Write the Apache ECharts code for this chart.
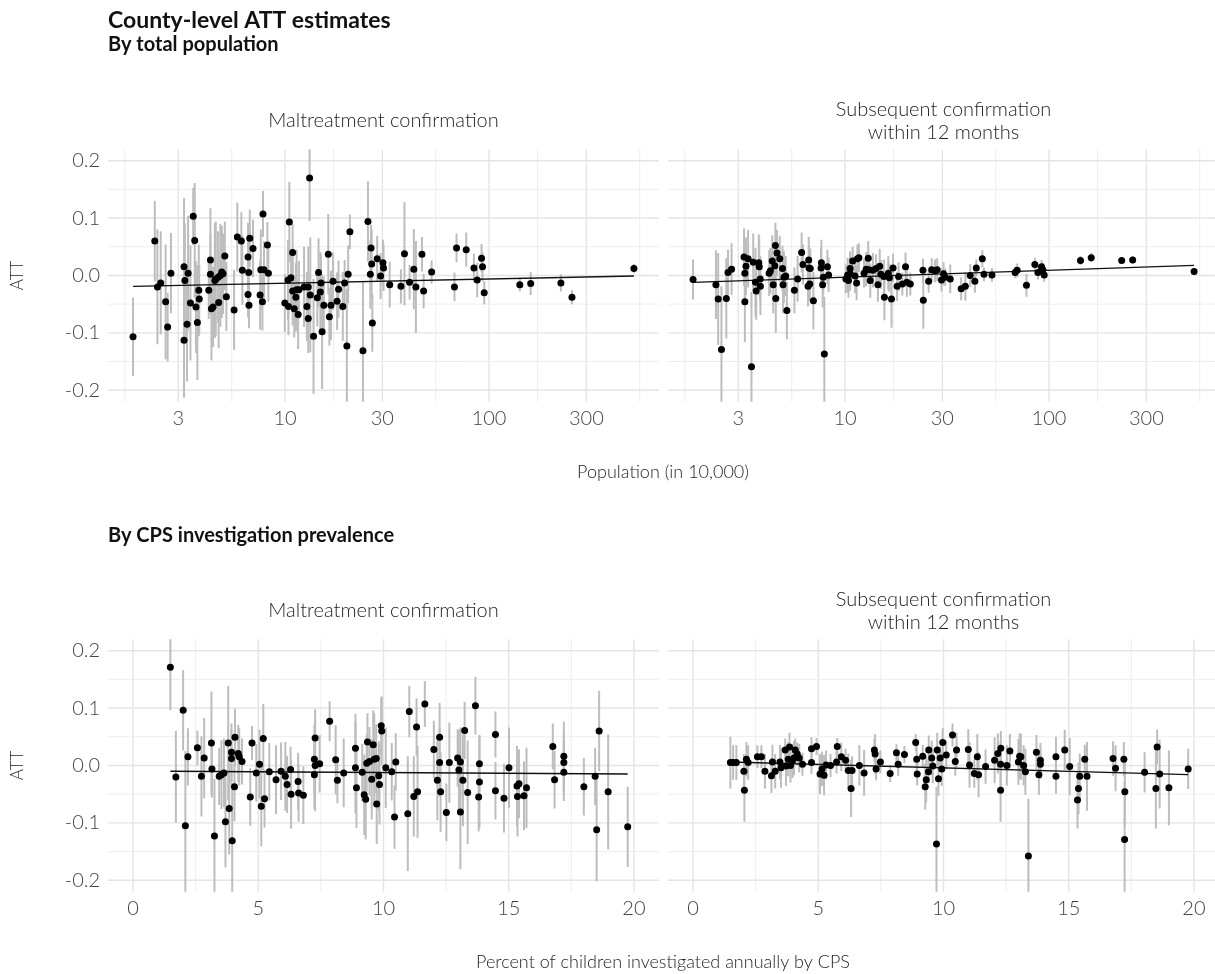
<!DOCTYPE html>
<html>
<head>
<meta charset="utf-8">
<title>County-level ATT estimates</title>
<script src="https://cdn.jsdelivr.net/npm/echarts@6/dist/echarts.min.js"></script>
<style>
  html, body { margin: 0; padding: 0; background: #fff; }
  #chart { width: 1215px; height: 974px; }
</style>
</head>
<body>
<div id="chart"></div>
<script>
// ---- tick labels / gridlines ----
const popTicks = [3, 10, 30, 100, 300];
const popMinor = [1.64, 5.48, 17.3, 54.8, 173, 548];
const pctTicks = [0, 5, 10, 15, 20];
const pctMinor = [2.5, 7.5, 12.5, 17.5];
const attTicks = [-0.2, -0.1, 0, 0.1, 0.2];
const attMinor = [-0.15, -0.05, 0.05, 0.15];

// ---- top left: maltreatment confirmation by population (in 10,000) ----
const tlPop = [1.80, 2.30, 2.37, 2.46, 2.60, 2.66, 2.76, 3.20, 3.20, 3.23,
  3.31, 3.35, 3.44, 3.55, 3.61, 3.66, 3.72, 3.78, 3.80, 4.23,
  4.31, 4.31, 4.36, 4.44, 4.53, 4.58, 4.70, 4.73, 4.82, 4.90,
  4.97, 5.07, 5.16, 5.63, 5.84, 6.11, 6.18, 6.59, 6.59, 6.64,
  6.66, 6.72, 6.97, 7.55, 7.61, 7.75, 7.80, 7.89, 8.20, 8.29,
  9.98, 10.35, 10.4, 10.5, 10.7, 10.9, 10.9, 11.1, 11.3, 11.4,
  11.6, 11.7, 12.4, 12.8, 13.0, 13.0, 13.2, 13.3, 13.8, 14.4,
  14.6, 14.9, 15.0, 15.2, 15.5, 16.3, 16.5, 16.8, 17.2, 18.0,
  18.3, 19.2, 19.6, 20.1, 20.4, 20.8, 24.1, 25.5, 26.2, 26.4,
  26.6, 26.8, 28.3, 29.4, 30.2, 30.4, 32.6, 37.0, 38.5, 40.8,
  42.8, 43.8, 46.9, 47.8, 52.3, 67.7, 69.3, 77.3, 84.3, 87.5,
  91.9, 92.9, 94.7, 141.5, 160, 225, 255, 513];
const tlAtt = [-0.107, 0.060, -0.020, -0.013, -0.046, -0.090, 0.004, 0.015, -0.113, -0.009,
  -0.085, 0.004, -0.048, 0.103, 0.061, -0.055, -0.082, -0.026, -0.041, -0.026,
  0.027, 0.002, -0.058, -0.055, -0.009, -0.006, -0.003, -0.047, 0.000, 0.006,
  0.003, 0.034, -0.037, -0.060, 0.067, 0.060, 0.009, 0.032, -0.033, 0.005,
  -0.052, 0.065, 0.047, -0.034, 0.010, -0.046, 0.107, 0.010, 0.053, 0.004,
  -0.048, -0.008, -0.054, 0.093, -0.004, 0.040, -0.027, -0.058, -0.038, -0.025,
  -0.068, -0.025, -0.020, -0.054, -0.020, -0.075, 0.170, -0.034, -0.106, -0.039,
  0.005, -0.029, -0.013, -0.098, -0.052, 0.037, -0.072, -0.052, -0.010, -0.045,
  -0.024, -0.054, -0.013, -0.123, 0.002, 0.076, -0.131, 0.094, 0.002, 0.048,
  0.020, -0.083, 0.029, -0.001, 0.022, 0.013, -0.016, -0.019, 0.038, -0.012,
  0.011, -0.020, 0.037, -0.027, 0.006, -0.020, 0.048, 0.045, 0.013, -0.008,
  0.030, 0.015, -0.030, -0.016, -0.014, -0.013, -0.038, 0.012];
const tlCi = [0.068, 0.07, 0.1, 0.09, 0.1, 0.06, 0.07, 0.12, 0.1, 0.1,
  0.1, 0.1, 0.1, 0.05, 0.1, 0.08, 0.1, 0.08, 0.06, 0.05,
  0.09, 0.07, 0.09, 0.07, 0.1, 0.1, 0.08, 0.08, 0.09, 0.08,
  0.07, 0.06, 0.06, 0.07, 0.06, 0.05, 0.06, 0.06, 0.04, 0.06,
  0.04, 0.05, 0.05, 0.06, 0.07, 0.05, 0.04, 0.05, 0.04, 0.05,
  0.05, 0.07, 0.05, 0.07, 0.05, 0.05, 0.06, 0.05, 0.06, 0.07,
  0.06, 0.05, 0.07, 0.06, 0.07, 0.06, 0.075, 0.1, 0.1, 0.05,
  0.06, 0.07, 0.05, 0.1, 0.05, 0.07, 0.05, 0.06, 0.05, 0.05,
  0.05, 0.06, 0.04, 0.1, 0.05, 0.03, 0.12, 0.07, 0.06, 0.04,
  0.06, 0.05, 0.04, 0.04, 0.04, 0.04, 0.04, 0.03, 0.09, 0.03,
  0.07, 0.08, 0.03, 0.03, 0.02, 0.025, 0.025, 0.03, 0.025, 0.03,
  0.025, 0.025, 0.02, 0.012, 0.02, 0.015, 0.012, 0.008];
const tlFitX = [1.8, 513];
const tlFitY = [-0.019, -0.001];

// ---- top right: subsequent confirmation by population ----
const trPop = [1.80, 2.33, 2.39, 2.48, 2.62, 2.67, 2.78, 3.20, 3.23, 3.23,
  3.27, 3.35, 3.48, 3.55, 3.64, 3.67, 3.78, 3.80, 3.84, 3.85,
  4.25, 4.31, 4.40, 4.45, 4.53, 4.56, 4.58, 4.64, 4.79, 4.94,
  4.97, 5.02, 5.12, 5.19, 5.65, 5.86, 6.13, 6.22, 6.59, 6.64,
  6.66, 6.72, 6.76, 7.0, 7.63, 7.66, 7.77, 7.83, 7.92, 8.20,
  8.31, 10.1, 10.3, 10.4, 10.6, 10.6, 10.9, 11.2, 11.4, 11.5,
  11.7, 12.4, 12.7, 13.0, 13.1, 13.3, 13.7, 14.2, 14.5, 14.8,
  15.0, 15.5, 15.6, 16.3, 16.5, 16.9, 17.2, 18.0, 18.3, 19.1,
  19.8, 20.1, 20.9, 24.1, 24.2, 25.7, 26.6, 27.6, 28.3,
  29.7, 30.4, 31.0, 32.8, 37.1, 38.9, 41.1, 43.3, 44.0, 47.1,
  48.0, 52.5, 68.2, 69.8, 77.5, 85.2, 88.2, 91.9, 93.2, 94.7,
  142.6, 161, 227, 257, 514];
const trAtt = [-0.007, -0.016, -0.041, -0.129, -0.040, 0.005, 0.011, 0.032, 0.004, -0.046,
  0.016, 0.029, -0.159, 0.023, -0.012, -0.027, 0.022, 0.015, -0.006, -0.019,
  0.004, 0.008, 0.025, -0.016, 0.017, 0.052, -0.040, 0.039, 0.029, 0.012,
  -0.016, -0.003, -0.001, -0.061, -0.026, -0.006, 0.040, 0.019, -0.019, 0.027,
  0.013, -0.015, 0.012, -0.044, 0.013, 0.022, -0.016, -0.003, -0.137, 0.015,
  0.001, -0.006, 0.001, -0.009, 0.012, 0.003, 0.025, -0.001, -0.013, 0.029,
  0.031, 0.004, 0.011, 0.030, 0.010, -0.009, 0.009, 0.012, -0.016, 0.016,
  0.002, -0.002, -0.038, 0.004, -0.004, -0.041, 0.013, -0.019, -0.002, -0.015,
  0.015, -0.012, -0.015, 0.009, -0.043, -0.010, 0.010, 0.008, 0.010,
  -0.008, 0.003, -0.003, -0.006, -0.023, -0.019, 0.000, -0.010, 0.013, 0.029,
  0.002, 0.001, 0.005, 0.009, -0.017, 0.019, 0.005, 0.015, 0.010, 0.001,
  0.026, 0.031, 0.026, 0.027, 0.007];
const trCi = [0.035, 0.06, 0.08, 0.11, 0.07, 0.04, 0.045, 0.05, 0.05, 0.07,
  0.05, 0.05, 0.13, 0.05, 0.06, 0.05, 0.05, 0.05, 0.04, 0.05,
  0.04, 0.04, 0.045, 0.05, 0.04, 0.04, 0.06, 0.04, 0.04, 0.04,
  0.05, 0.045, 0.035, 0.05, 0.04, 0.04, 0.035, 0.035, 0.035, 0.04,
  0.04, 0.03, 0.035, 0.05, 0.035, 0.04, 0.04, 0.03, 0.1, 0.03,
  0.03, 0.025, 0.03, 0.03, 0.03, 0.03, 0.025, 0.03, 0.03, 0.025,
  0.025, 0.025, 0.03, 0.03, 0.025, 0.03, 0.03, 0.025, 0.03, 0.03,
  0.025, 0.03, 0.04, 0.03, 0.025, 0.05, 0.025, 0.025, 0.025, 0.02,
  0.025, 0.025, 0.02, 0.02, 0.05, 0.02, 0.02, 0.02, 0.02,
  0.02, 0.02, 0.015, 0.025, 0.02, 0.025, 0.02, 0.02, 0.015, 0.015,
  0.012, 0.012, 0.01, 0.012, 0.02, 0.012, 0.012, 0.012, 0.012, 0.012,
  0.008, 0.008, 0.006, 0.006, 0.005];
const trFitX = [1.8, 514];
const trFitY = [-0.012, 0.0175];

// ---- bottom left: maltreatment confirmation by CPS investigation % ----
const blPct = [1.49, 1.71, 2.0, 2.09, 2.19, 2.57, 2.73, 2.84, 3.13, 3.15,
  3.25, 3.44, 3.53, 3.63, 3.69, 3.8, 3.84, 3.93, 3.93, 3.96,
  4.05, 4.07, 4.2, 4.24, 4.35, 4.68, 4.75, 4.92, 5.05, 5.12,
  5.2, 5.25, 5.44, 5.71, 5.91, 6.08, 6.15, 6.29, 6.31, 6.59,
  6.61, 6.8, 7.24, 7.27, 7.27, 7.24, 7.45, 7.85, 8.09, 8.16,
  8.41, 8.88, 8.88, 8.92, 9.15, 9.23, 9.29, 9.36, 9.33, 9.44,
  9.53, 9.59, 9.63, 9.71, 9.73, 9.81, 9.84, 9.91, 9.93, 10.09,
  10.33, 10.44, 10.49, 10.97, 11.03, 11.21, 11.32, 11.36, 11.65, 12.01,
  12.15, 12.24, 12.24, 12.28, 12.51, 12.63, 12.96, 13.01, 13.07, 13.07,
  13.17, 13.24, 13.36, 13.67, 13.8, 13.83, 13.83, 14.47, 14.47, 14.81,
  15.01, 15.33, 15.41, 15.35, 15.61, 15.71, 16.76, 16.83, 17.2, 17.2,
  17.2, 18.0, 18.45, 18.51, 18.61, 18.97, 19.75];
const blAtt = [0.171, -0.020, 0.096, -0.105, 0.015, 0.031, -0.019, 0.013, 0.039, -0.006,
  -0.123, -0.019, -0.016, -0.013, -0.098, 0.039, -0.075, 0.023, 0.012, -0.131,
  -0.037, 0.049, 0.021, 0.015, 0.007, -0.055, 0.039, -0.013, 0.002, -0.071,
  0.047, -0.058, -0.011, -0.025, -0.010, -0.019, -0.033, -0.007, -0.050, -0.028,
  -0.048, -0.052, 0.011, 0.048, 0.000, -0.016, 0.003, 0.077, 0.010, -0.026,
  -0.013, 0.030, -0.004, -0.039, -0.012, -0.051, -0.059, 0.041, 0.004, 0.007,
  -0.024, 0.036, 0.011, 0.012, -0.067, -0.018, -0.033, 0.069, 0.060, -0.004,
  -0.011, -0.090, 0.006, -0.084, 0.094, -0.054, 0.067, -0.046, 0.107, 0.028,
  -0.026, 0.049, 0.005, -0.046, -0.082, 0.005, 0.013, -0.008, 0.006, -0.081,
  -0.026, 0.061, -0.047, 0.104, -0.055, 0.003, -0.029, 0.054, -0.044, -0.057,
  -0.004, -0.036, -0.032, -0.054, -0.053, -0.039, 0.033, -0.025, 0.016, 0.005,
  -0.012, -0.037, -0.019, -0.112, 0.060, -0.046, -0.107];
const blCi = [0.075, 0.08, 0.07, 0.13, 0.05, 0.03, 0.07, 0.07, 0.09, 0.05,
  0.1, 0.05, 0.06, 0.06, 0.08, 0.1, 0.08, 0.05, 0.05, 0.1,
  0.06, 0.05, 0.05, 0.05, 0.04, 0.05, 0.03, 0.05, 0.06, 0.07,
  0.06, 0.05, 0.05, 0.06, 0.05, 0.06, 0.05, 0.04, 0.06, 0.05,
  0.05, 0.05, 0.06, 0.05, 0.08, 0.06, 0.05, 0.035, 0.06, 0.04,
  0.06, 0.06, 0.08, 0.07, 0.05, 0.07, 0.07, 0.05, 0.05, 0.06,
  0.07, 0.06, 0.08, 0.06, 0.07, 0.06, 0.07, 0.05, 0.06, 0.07,
  0.05, 0.055, 0.05, 0.1, 0.045, 0.07, 0.05, 0.08, 0.04, 0.05,
  0.07, 0.06, 0.06, 0.07, 0.05, 0.07, 0.05, 0.07, 0.06, 0.1,
  0.08, 0.05, 0.09, 0.05, 0.06, 0.05, 0.08, 0.04, 0.05, 0.06,
  0.07, 0.07, 0.06, 0.07, 0.06, 0.07, 0.04, 0.05, 0.06, 0.05,
  0.05, 0.05, 0.05, 0.09, 0.07, 0.1, 0.07];
const blFitX = [1.49, 19.75];
const blFitY = [-0.010, -0.015];

// ---- bottom right: subsequent confirmation by CPS investigation % ----
const brPct = [1.49, 1.6, 1.73, 2.03, 2.05, 2.13, 2.2, 2.57, 2.73, 2.87,
  3.13, 3.17, 3.28, 3.47, 3.51, 3.68, 3.71, 3.85, 3.8, 3.89,
  3.97, 4.03, 4.08, 4.16, 4.24, 4.37, 4.73, 4.93, 4.73, 5.07,
  5.15, 5.23, 5.31, 5.49, 5.73, 5.76, 5.92, 6.09, 6.2, 6.31,
  6.35, 6.64, 6.83, 7.24, 7.27, 7.31, 7.48, 7.87, 8.12, 8.19,
  8.44, 8.89, 8.93, 8.95, 9.17, 9.27, 9.31, 9.4, 9.41, 9.53,
  9.57, 9.72, 9.75, 9.8, 9.87, 9.97, 9.93, 10.11, 10.36, 10.47,
  10.52, 10.99, 11.04, 11.23, 11.35, 11.4, 11.68, 12.04, 12.17, 12.28,
  12.29, 12.28, 12.53, 12.65, 12.99, 13.04, 13.09, 13.2, 13.27, 13.39,
  13.71, 13.81, 13.87, 13.87, 14.49, 14.49, 14.84, 15.04, 15.39, 15.35,
  15.44, 15.64, 15.73, 16.77, 16.87, 17.2, 17.24, 17.23, 18.03, 18.48,
  18.53, 18.63, 19.0, 19.77];
const brAtt = [0.005, 0.005, 0.005, -0.010, -0.043, 0.011, 0.005, 0.015, 0.015, -0.010,
  -0.018, 0.006, -0.010, 0.006, -0.004, 0.027, -0.001, 0.032, 0.011, 0.000,
  0.008, 0.013, 0.027, 0.020, 0.013, 0.002, 0.029, 0.033, 0.005, -0.015,
  -0.006, -0.017, 0.001, 0.000, 0.006, 0.033, 0.015, 0.009, -0.009, -0.040,
  -0.009, 0.000, -0.013, 0.027, 0.020, -0.006, 0.006, -0.014, 0.022, 0.002,
  0.019, 0.040, 0.011, -0.015, 0.016, -0.037, -0.025, -0.011, 0.027, 0.013,
  -0.001, -0.137, 0.027, -0.023, 0.013, 0.040, -0.006, 0.018, 0.053, 0.007,
  0.027, 0.028, 0.001, -0.014, 0.015, -0.016, -0.002, 0.009, 0.021, 0.002,
  0.030, -0.043, 0.000, 0.025, 0.006, 0.016, 0.015, 0.000, -0.011, -0.158,
  0.023, -0.016, 0.009, 0.002, 0.015, -0.019, 0.027, -0.002, -0.040, -0.060,
  -0.019, 0.011, -0.019, 0.012, -0.005, 0.011, -0.046, -0.129, -0.012, -0.040,
  0.032, -0.015, -0.039, -0.006];
const brCi = [0.045, 0.03, 0.03, 0.03, 0.055, 0.03, 0.03, 0.02, 0.02, 0.03,
  0.03, 0.03, 0.03, 0.03, 0.035, 0.02, 0.035, 0.025, 0.03, 0.03,
  0.03, 0.03, 0.02, 0.02, 0.025, 0.02, 0.02, 0.015, 0.02, 0.035,
  0.03, 0.035, 0.025, 0.02, 0.02, 0.015, 0.025, 0.02, 0.03, 0.05,
  0.025, 0.035, 0.04, 0.02, 0.035, 0.02, 0.02, 0.015, 0.015, 0.02,
  0.015, 0.015, 0.025, 0.02, 0.02, 0.04, 0.04, 0.02, 0.025, 0.03,
  0.03, 0.1, 0.03, 0.03, 0.02, 0.025, 0.03, 0.025, 0.02, 0.025,
  0.03, 0.035, 0.04, 0.025, 0.04, 0.04, 0.03, 0.04, 0.035, 0.04,
  0.03, 0.055, 0.035, 0.03, 0.04, 0.04, 0.04, 0.035, 0.04, 0.1,
  0.03, 0.035, 0.03, 0.025, 0.035, 0.03, 0.035, 0.05, 0.045, 0.05,
  0.04, 0.025, 0.06, 0.03, 0.04, 0.03, 0.06, 0.1, 0.035, 0.07,
  0.03, 0.06, 0.065, 0.035];
const brFitX = [1.49, 19.77];
const brFitY = [0.006, -0.016];

const FONT = 'Lato';
const LABEL_COLOR = '#444';
const TEXT_COLOR = '#1e1e1e';

const logX = v => Math.log10(v);
const linX = v => v;

const panels = [
  { xs: tlPop, ys: tlAtt, ci: tlCi, fitX: tlFitX, fitY: tlFitY, fx: logX, left: 108, top: 149.2,
    xMin: 0.1325, xMax: 2.833, ticks: popTicks, minor: popMinor, ylab: true },
  { xs: trPop, ys: trAtt, ci: trCi, fitX: trFitX, fitY: trFitY, fx: logX, left: 668, top: 149.2,
    xMin: 0.1325, xMax: 2.833, ticks: popTicks, minor: popMinor, ylab: false },
  { xs: blPct, ys: blAtt, ci: blCi, fitX: blFitX, fitY: blFitY, fx: linX, left: 108, top: 639.2,
    xMin: -1, xMax: 21, ticks: pctTicks, minor: pctMinor, ylab: true },
  { xs: brPct, ys: brAtt, ci: brCi, fitX: brFitX, fitY: brFitY, fx: linX, left: 668, top: 639.2,
    xMin: -1, xMax: 21, ticks: pctTicks, minor: pctMinor, ylab: false }
];

const grids = [], xAxes = [], yAxes = [], series = [];

panels.forEach((p, i) => {
  grids.push({ left: p.left, top: p.top, width: 551, height: 252.5, outerBoundsMode: 'none' });
  xAxes.push({
    gridIndex: i, type: 'value', min: p.xMin, max: p.xMax,
    splitLine: { show: false }, axisLine: { show: false }, axisTick: { show: false },
    axisLabel: {
      customValues: p.ticks.map(p.fx),
      formatter: v => p.fx === logX ? String(Math.round(Math.pow(10, v))) : String(Math.round(v)),
      color: LABEL_COLOR, fontSize: 20, fontWeight: 300, fontFamily: FONT, margin: 7
    }
  });
  yAxes.push({
    gridIndex: i, type: 'value', min: -0.22, max: 0.22,
    splitLine: { show: false }, axisLine: { show: false }, axisTick: { show: false },
    axisLabel: {
      show: p.ylab,
      customValues: attTicks,
      formatter: v => (Math.abs(v) < 1e-9 ? 0 : v).toFixed(1),
      color: LABEL_COLOR, fontSize: 20, fontWeight: 300, fontFamily: FONT, margin: 8
    },
    name: p.ylab ? 'ATT' : '', nameLocation: 'middle', nameRotate: 90, nameGap: 82,
    nameTextStyle: { color: TEXT_COLOR, fontSize: 17, fontWeight: 300, fontFamily: FONT }
  });

  // vertical gridlines
  series.push({
    type: 'custom', xAxisIndex: i, yAxisIndex: i, z: 1, silent: true,
    data: p.ticks.map(v => [p.fx(v), 0, 1]).concat(p.minor.map(v => [p.fx(v), 0, 0])),
    renderItem: (params, api) => {
      const cs = params.coordSys;
      const x = api.coord([api.value(0), 0])[0];
      const major = api.value(2) === 1;
      return { type: 'line', shape: { x1: x, y1: cs.y, x2: x, y2: cs.y + cs.height },
        style: { stroke: major ? '#e4e4e4' : '#eeeeee', lineWidth: major ? 1.4 : 1 } };
    }
  });
  // horizontal gridlines
  series.push({
    type: 'custom', xAxisIndex: i, yAxisIndex: i, z: 1, silent: true,
    data: attTicks.map(v => [p.fx(p.ticks[1]), v, 1]).concat(attMinor.map(v => [p.fx(p.ticks[1]), v, 0])),
    renderItem: (params, api) => {
      const cs = params.coordSys;
      const y = api.coord([api.value(0), api.value(1)])[1];
      const major = api.value(2) === 1;
      return { type: 'line', shape: { x1: cs.x, y1: y, x2: cs.x + cs.width, y2: y },
        style: { stroke: major ? '#e4e4e4' : '#eeeeee', lineWidth: major ? 1.4 : 1 } };
    }
  });
  // error bars
  series.push({
    type: 'custom', xAxisIndex: i, yAxisIndex: i, z: 2, clip: true, silent: true,
    encode: { x: 0, y: [1, 2] },
    data: p.xs.map((x, k) => [p.fx(x), p.ys[k] - p.ci[k], p.ys[k] + p.ci[k]]),
    renderItem: (params, api) => {
      const a = api.coord([api.value(0), api.value(1)]);
      const b = api.coord([api.value(0), api.value(2)]);
      return { type: 'line', shape: { x1: a[0], y1: a[1], x2: b[0], y2: b[1] },
        style: { stroke: '#bdbdbd', lineWidth: 2 } };
    }
  });
  // fitted line
  series.push({
    type: 'line', xAxisIndex: i, yAxisIndex: i, z: 3, silent: true,
    symbol: 'none', lineStyle: { color: '#111', width: 1.4 },
    data: p.fitX.map((x, k) => [p.fx(x), p.fitY[k]])
  });
  // points
  series.push({
    type: 'scatter', xAxisIndex: i, yAxisIndex: i, z: 4, silent: true,
    symbolSize: 7, itemStyle: { color: '#000', opacity: 1 },
    data: p.xs.map((x, k) => [p.fx(x), p.ys[k]])
  });
});

function txt(text, x, y, font, color, align, lineHeight) {
  return { type: 'text', x: x, y: y, silent: true,
    style: { text: text, font: font, fill: color, textAlign: align, align: align,
      textVerticalAlign: 'middle', verticalAlign: 'middle', lineHeight: lineHeight || undefined } };
}

const graphics = [
  txt('County-level ATT estimates', 108, 21, 'bold 23px ' + FONT, '#111', 'left'),
  txt('By total population', 108, 45, 'bold 20px ' + FONT, '#111', 'left'),
  txt('By CPS investigation prevalence', 108, 536, 'bold 20px ' + FONT, '#111', 'left'),
  txt('Maltreatment confirmation', 383.5, 121, '300 20px ' + FONT, TEXT_COLOR, 'center'),
  txt('Subsequent confirmation\nwithin 12 months', 943.5, 121.5, '300 20px ' + FONT, TEXT_COLOR, 'center', 23),
  txt('Maltreatment confirmation', 383.5, 611, '300 20px ' + FONT, TEXT_COLOR, 'center'),
  txt('Subsequent confirmation\nwithin 12 months', 943.5, 611, '300 20px ' + FONT, TEXT_COLOR, 'center', 23),
  txt('Population (in 10,000)', 663, 472, '300 18px ' + FONT, TEXT_COLOR, 'center'),
  txt('Percent of children investigated annually by CPS', 663, 962, '300 18px ' + FONT, TEXT_COLOR, 'center')
];

const chart = echarts.init(document.getElementById('chart'));
chart.setOption({
  backgroundColor: '#fff',
  animation: false,
  grid: grids,
  xAxis: xAxes,
  yAxis: yAxes,
  series: series,
  graphic: graphics
});
</script>
</body>
</html>
